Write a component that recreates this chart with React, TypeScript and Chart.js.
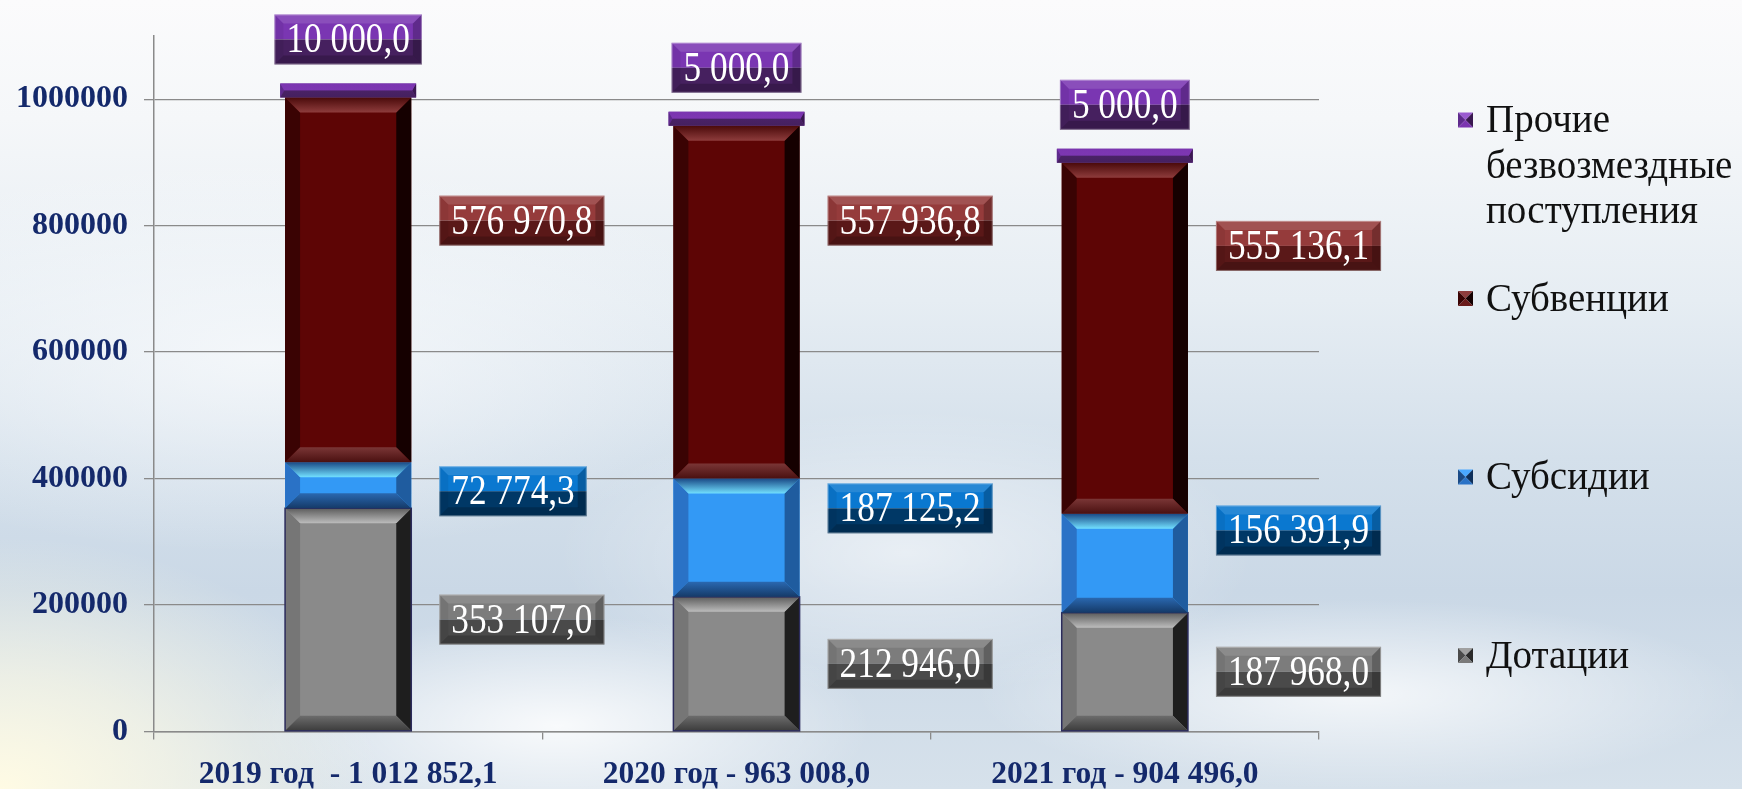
import React, { useEffect, useRef } from "react";
import { Chart, registerables } from "chart.js";

Chart.register(...registerables);

// ---------- data ----------
const categories = ["2019 год  - 1 012 852,1", "2020 год - 963 008,0", "2021 год - 904 496,0"];
const seriesNames = ["Дотации", "Субсидии", "Субвенции", "Прочие безвозмездные поступления"];
const dotacii = [353107.0, 212946.0, 187968.0];
const subsidii = [72774.3, 187125.2, 156391.9];
const subvencii = [576970.8, 557936.8, 555136.1];
const prochie = [10000.0, 5000.0, 5000.0];
const yTicks = [0, 200000, 400000, 600000, 800000, 1000000];
const yMax = 1100000;

// vertical anchor (data units) of the value boxes as placed on the slide; null = segment middle
const dotaciiLabelAt: (number | null)[] = [null, null, null];
const subsidiiLabelAt: (number | null)[] = [380000, 353000, 318000];
const subvenciiLabelAt: (number | null)[] = [808000, 808000, 768000];
const labelAnchors = [dotaciiLabelAt, subsidiiLabelAt, subvenciiLabelAt, null];

// ---------- styles ----------
const SERIF = '"Liberation Serif", "Times New Roman", serif';
const NAVY = "#14296b";
const CANVAS_H = 811;

type Bev = {
  face: string; topO: string; topI: string; botO: string; botI: string; left: string; right: string;
  boxLight: string; boxDark: string; mk: [string, string, string, string];
};
const styles: Bev[] = [
  { face: "#8a8a8a", topO: "#5c5c5c", topI: "#bcbcbc", botO: "#3c3c3c", botI: "#6c6c6c", left: "#767676", right: "#1e1e1e",
    boxLight: "#7c7c7c", boxDark: "#4a4a4a", mk: ["#a0a0a0", "#4a4a4a", "#2a2a2a", "#7a7a7a"] },
  { face: "#3399f5", topO: "#1a4a86", topI: "#72e0ff", botO: "#153a68", botI: "#2a68b0", left: "#2a72c6", right: "#1f5c9f",
    boxLight: "#0a78d0", boxDark: "#003866", mk: ["#4aa8ff", "#1a4a86", "#0e2f5a", "#2a72c6"] },
  { face: "#5d0505", topO: "#4a0a0a", topI: "#8e3c3c", botO: "#4a1010", botI: "#7a3636", left: "#3a0303", right: "#150000",
    boxLight: "#953b3b", boxDark: "#5a1818", mk: ["#8e3c3c", "#3a0303", "#150000", "#6a1a1a"] },
  { face: "#6a2e9a", topO: "#7b35b0", topI: "#7d37b2", botO: "#45205f", botI: "#4a2266", left: "#5e2a8c", right: "#3a1850",
    boxLight: "#7a36b2", boxDark: "#46205f", mk: ["#9a5ad0", "#5e2a8c", "#3a1850", "#7b35b0"] },
];

const fmt = (v: number) => {
  const [i, d] = v.toFixed(1).split(".");
  return i.replace(/\B(?=(\d{3})+(?!\d))/g, " ") + "," + d;
};

function poly(ctx: CanvasRenderingContext2D, pts: number[][], fill: string | CanvasGradient) {
  ctx.beginPath();
  ctx.moveTo(pts[0][0], pts[0][1]);
  for (let k = 1; k < pts.length; k++) ctx.lineTo(pts[k][0], pts[k][1]);
  ctx.closePath();
  ctx.fillStyle = fill;
  ctx.fill();
}

const bevelPlugin = {
  id: "bevel",
  afterDatasetsDraw(chart: any) {
    const ctx: CanvasRenderingContext2D = chart.ctx;
    ctx.save();
    chart.data.datasets.forEach((_: any, di: number) => {
      const meta = chart.getDatasetMeta(di);
      const s = styles[di];
      meta.data.forEach((el: any) => {
        const { x, y, base, width } = el.getProps(["x", "y", "base", "width"], true);
        const l = x - width / 2, r = x + width / 2;
        const t = Math.min(y, base), b = Math.max(y, base);
        const h = b - t;
        const bv = di === 3 ? h / 2 : Math.min(15, h / 2.6);
        const sb = di === 3 ? 4 : 15;
        poly(ctx, [[l, t], [l + sb, t + bv], [l + sb, b - bv], [l, b]], s.left);
        poly(ctx, [[r, t], [r - sb, t + bv], [r - sb, b - bv], [r, b]], s.right);
        const gt = ctx.createLinearGradient(0, t, 0, t + bv);
        gt.addColorStop(0, s.topO);
        gt.addColorStop(1, s.topI);
        poly(ctx, [[l, t], [r, t], [r - sb, t + bv], [l + sb, t + bv]], gt);
        const gb = ctx.createLinearGradient(0, b - bv, 0, b);
        gb.addColorStop(0, s.botI);
        gb.addColorStop(1, s.botO);
        poly(ctx, [[l, b], [r, b], [r - sb, b - bv], [l + sb, b - bv]], gb);
        if (di === 0) {
          ctx.strokeStyle = "#2c2c5c";
          ctx.lineWidth = 1.5;
          ctx.strokeRect(l, t, width, h);
        }
      });
    });
    ctx.restore();
  },
};

function drawBox(ctx: CanvasRenderingContext2D, l: number, t: number, w: number, h: number, s: Bev) {
  const r = l + w, b = t + h, bv = 9;
  ctx.fillStyle = s.boxLight;
  ctx.fillRect(l, t, w, h / 2);
  ctx.fillStyle = s.boxDark;
  ctx.fillRect(l, t + h / 2, w, h / 2);
  poly(ctx, [[l, t], [r, t], [r - bv, t + bv], [l + bv, t + bv]], "rgba(255,255,255,0.12)");
  poly(ctx, [[r, t], [r - bv, t + bv], [r - bv, b - bv], [r, b]], "rgba(0,0,0,0.22)");
  poly(ctx, [[l, b], [r, b], [r - bv, b - bv], [l + bv, b - bv]], "rgba(0,0,0,0.2)");
  poly(ctx, [[l, t], [l + bv, t + bv], [l + bv, b - bv], [l, b]], "rgba(0,0,0,0.06)");
  ctx.strokeStyle = "rgba(255,255,255,0.35)";
  ctx.lineWidth = 1;
  ctx.strokeRect(l + 0.5, t + 0.5, w - 1, h - 1);
}

const labelPlugin = {
  id: "valueBoxes",
  afterDraw(chart: any) {
    const ctx: CanvasRenderingContext2D = chart.ctx;
    const yScale = chart.scales.y;
    const FS = 42, SX = 0.84, BOXH = 50, GAP = 28, PAD = 12, ABOVE = 44;
    ctx.save();
    ctx.font = `${FS}px ${SERIF}`;
    chart.data.datasets.forEach((ds: any, di: number) => {
      const meta = chart.getDatasetMeta(di);
      meta.data.forEach((el: any, i: number) => {
        const { x, y, base, width } = el.getProps(["x", "y", "base", "width"], true);
        const text = fmt(ds.data[i]);
        const tw = ctx.measureText(text).width * SX;
        const bw = tw + PAD * 2;
        let l: number, cy: number;
        if (di === 3) {
          l = x - bw / 2;
          cy = Math.min(y, base) - ABOVE;
        } else {
          l = x + width / 2 + GAP;
          const a = (labelAnchors[di] as (number | null)[])[i];
          cy = a == null ? (y + base) / 2 : yScale.getPixelForValue(a);
        }
        const t = cy - BOXH / 2;
        drawBox(ctx, l, t, bw, BOXH, styles[di]);
        ctx.save();
        ctx.translate(l + bw / 2, cy + 2);
        ctx.scale(SX, 1);
        ctx.fillStyle = "#ffffff";
        ctx.textAlign = "center";
        ctx.textBaseline = "middle";
        ctx.fillText(text, 0, 0);
        ctx.restore();
      });
    });
    ctx.restore();
  },
};

const legendPlugin = {
  id: "sideLegend",
  afterDraw(chart: any) {
    const ctx: CanvasRenderingContext2D = chart.ctx;
    const order = [3, 2, 1, 0];
    const X_MK = 1458, X_TX = 1486, TOP = 120, STEP = 178.5, LH = 45.5, MK = 15;
    ctx.save();
    ctx.font = `39px ${SERIF}`;
    ctx.textBaseline = "middle";
    ctx.textAlign = "left";
    order.forEach((di, k) => {
      const cy = TOP + k * STEP;
      const s = styles[di];
      const l = X_MK, t = cy - MK / 2, r = l + MK, b = t + MK, cx = l + MK / 2, cyy = t + MK / 2;
      poly(ctx, [[l, t], [r, t], [cx, cyy]], s.mk[0]);
      poly(ctx, [[l, t], [cx, cyy], [l, b]], s.mk[1]);
      poly(ctx, [[r, t], [cx, cyy], [r, b]], s.mk[2]);
      poly(ctx, [[l, b], [cx, cyy], [r, b]], s.mk[3]);
      const lines = String(chart.data.datasets[di].label).split(" ");
      ctx.fillStyle = "#111111";
      lines.forEach((ln, j) => ctx.fillText(ln, X_TX, cy + 2 + j * LH));
    });
    ctx.restore();
  },
};

export default function App() {
  const ref = useRef<HTMLCanvasElement | null>(null);
  useEffect(() => {
    if (!ref.current) return;
    Chart.defaults.font.family = SERIF;
    const seriesData = [dotacii, subsidii, subvencii, prochie];
    const chart = new Chart(ref.current, {
      type: "bar",
      data: {
        labels: categories,
        datasets: seriesData.map((d, di) => ({
          label: seriesNames[di],
          data: d,
          backgroundColor: styles[di].face,
          borderWidth: 0,
          barPercentage: di === 3 ? 0.35 : 0.325,
          categoryPercentage: 1,
          minBarLength: di === 3 ? 14 : 0,
        })),
      },
      options: {
        animation: false,
        responsive: false,
        maintainAspectRatio: false,
        layout: { padding: { left: 0, right: 423, top: 36, bottom: 0 } },
        plugins: { legend: { display: false }, tooltip: { enabled: false } },
        scales: {
          x: {
            stacked: true,
            grid: { offset: true, drawOnChartArea: false, drawTicks: true, tickLength: 8, color: "#8a8a8a", lineWidth: 1.3 },
            border: { color: "#8a8a8a", width: 1.5 },
            ticks: { color: NAVY, font: { size: 31.5, weight: "bold", family: SERIF, lineHeight: 1 }, padding: 20, maxRotation: 0 },
          },
          y: {
            stacked: true,
            min: 0,
            max: yMax,
            afterBuildTicks: (scale: any) => {
              scale.ticks = yTicks.map((v) => ({ value: v }));
            },
            grid: { color: "#8a8a8a", lineWidth: 1.3, tickLength: 10 },
            border: { color: "#8a8a8a", width: 1.5 },
            ticks: {
              color: NAVY,
              font: { size: 32, weight: "bold", family: SERIF },
              padding: 16,
              callback: (v: any) => String(v),
            },
          },
        },
      },
      plugins: [bevelPlugin, labelPlugin, legendPlugin],
    } as any);
    return () => chart.destroy();
  }, []);

  const bg = [
    "radial-gradient(ellipse 22% 32% at 0% 100%, rgba(255,251,228,1) 0%, rgba(255,251,228,0.6) 45%, rgba(255,251,228,0) 100%)",
    "radial-gradient(ellipse 18% 14% at 32% 92%, rgba(255,255,255,0.85) 0%, rgba(255,255,255,0) 100%)",
    "radial-gradient(ellipse 20% 18% at 52% 70%, rgba(255,255,255,0.55) 0%, rgba(255,255,255,0) 100%)",
    "radial-gradient(ellipse 22% 12% at 78% 88%, rgba(255,255,255,0.75) 0%, rgba(255,255,255,0) 100%)",
    "radial-gradient(ellipse 30% 25% at 15% 45%, rgba(248,250,252,0.8) 0%, rgba(248,250,252,0) 100%)",
    "linear-gradient(180deg, #fbfbfc 0%, #f5f7f9 15%, #e6edf3 38%, #d4e0eb 58%, #cad8e6 75%, #d6e1eb 100%)",
  ].join(", ");

  return (
    <div style={{ position: "fixed", left: 0, top: 0, width: 1742, height: 789, background: bg, overflow: "hidden" }}>
      <canvas ref={ref} width={1742} height={CANVAS_H} style={{ display: "block", width: 1742, height: CANVAS_H }} />
    </div>
  );
}
